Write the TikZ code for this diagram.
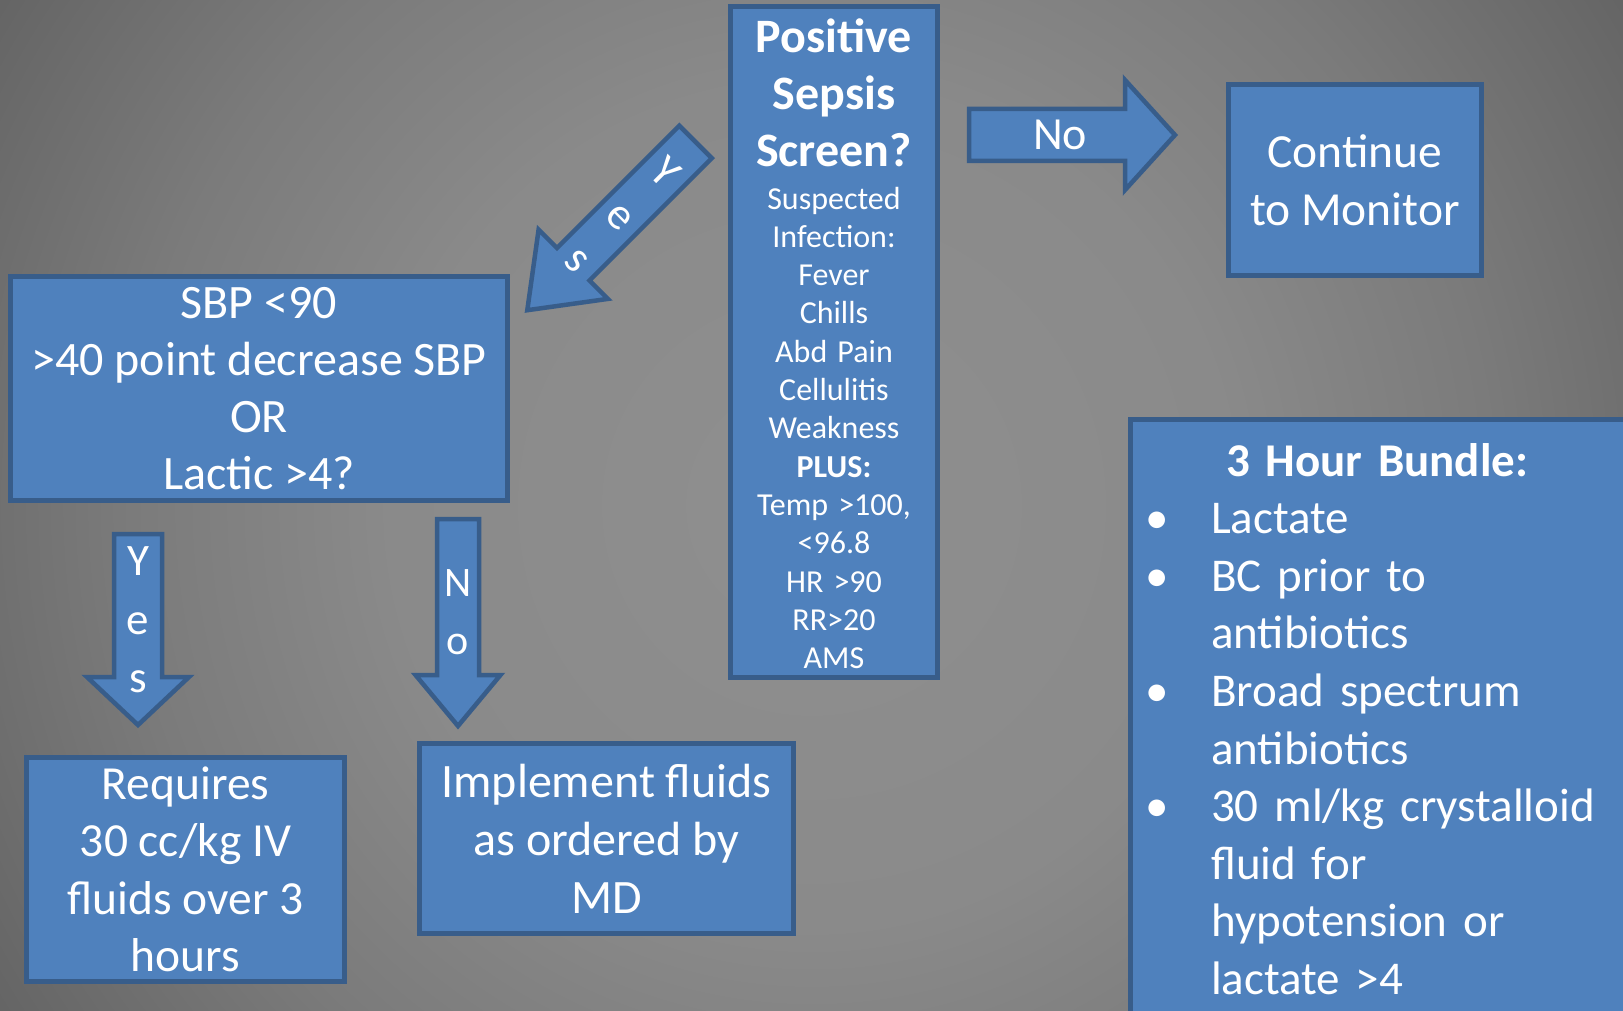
\documentclass[tikz,border=0pt]{standalone}
\usepackage{fontspec}
\setmainfont{Carlito}
\usetikzlibrary{calc}

\definecolor{boxfill}{HTML}{4F81BD}
\definecolor{boxline}{HTML}{385D8A}
\definecolor{bgA}{HTML}{8F8F8F}
\definecolor{bgB}{HTML}{8A8A8A}
\definecolor{bgC}{HTML}{7B7B7B}
\definecolor{bgD}{HTML}{686868}
\definecolor{bgE}{HTML}{555555}
\definecolor{bgF}{HTML}{474747}

% slide background: light centre fading to dark corners (circular)
\pgfdeclareradialshading{slidebg}{\pgfpoint{0bp}{0bp}}{%
  color(0bp)=(bgA); color(11bp)=(bgB); color(17.8bp)=(bgC);
  color(24bp)=(bgD); color(30bp)=(bgE); color(35.4bp)=(bgF); color(50bp)=(bgF)}

\newcommand\fsz[2]{\fontsize{#1pt}{#2pt}\selectfont}
\newcommand\bitem{\noindent\llap{\makebox[0pt]{\textbullet}\hspace{54pt}}}

\tikzset{
  box/.style={draw=boxline, fill=boxfill, line width=5pt, text=white,
    align=center, inner sep=0pt, outer sep=0pt},
  barrow/.style={draw=boxline, fill=boxfill, line width=4.5pt, line join=miter},
  arrowlabel/.style={text=white, align=center, inner sep=0pt},
  % block arrow pointing along local +y: shaft half width, head half width,
  % start of head, tip
  pics/blockarrow/.style n args={4}{code={
    \draw[barrow] (-#1,2) -- (-#1,#3) -- (-#2,#3) -- (0,#4) -- (#2,#3)
      -- (#1,#3) -- (#1,2) -- cycle;
  }},
}

\begin{document}
\begin{tikzpicture}[x=1pt, y=-1pt]
\useasboundingbox (0,0) rectangle (1623,1011);
\clip (0,0) rectangle (1623,1011);
% square shading area so the gradient stays circular
\shade[shading=slidebg] (-143.5,-449.5) rectangle (1766.5,1460.5);

% decision boxes
\node[box, minimum width=207, minimum height=671, text width=207] (screen) at (834,342) {%
  {\fsz{48}{57}\bfseries\rule{0pt}{37pt}Positive\\Sepsis\\Screen?\par}
  \vspace{4.7pt}
  {\fsz{32}{38.3}\spaceskip=1.4\fontdimen2\font Suspected\\Infection:\\Fever\\Chills\\Abd Pain\\
   Cellulitis\\Weakness\\\textbf{PLUS:}\\Temp >100,\\<96.8\\HR >90\\RR>20\\AMS\par}};

\node[box, minimum width=253, minimum height=191, font=\fsz{47.5}{58}] (continue) at (1355,180)
  {Continue\\to Monitor};

\node[box, minimum width=497, minimum height=224, font=\fsz{48}{57}] (sbp) at (259,388.5)
  {SBP <90\\>40 point decrease SBP\\OR\\Lactic >4?};

\node[box, minimum width=318, minimum height=224, font=\fsz{47.5}{57.5}] (requires) at (185.5,869.5)
  {Requires\\30 cc/kg IV\\fluids over 3\\hours};

\node[box, minimum width=374, minimum height=190, font=\fsz{48}{58}] (implement) at (606.5,838.5)
  {Implement fluids\\as ordered by\\MD};

% bundle panel runs off the right and bottom edges
\node[box, minimum width=540, minimum height=640, anchor=north west] (bundle) at (1130.5,419.5) {};
\node[anchor=base west, text width=480, text=white, inner sep=0pt, font=\fsz{47}{57.6}]
  (bundletext) at (1137,476) {%
  {\centering\bfseries 3 Hour Bundle:\par}
  \raggedright\leftskip=74pt
  \bitem Lactate\par
  \bitem BC prior to\\antibiotics\par
  \bitem Broad spectrum\\antibiotics\par
  \bitem 30 ml/kg crystalloid\\fluid for\\hypotension or\\lactate >4\par};

% block arrows
\pic (arrowno)   [rotate=90]  at (967,135)   {blockarrow={26}{55}{158}{208}};
\pic (arrowyes)  [rotate=-45] at (697,140.5) {blockarrow={23}{49}{175}{240}};
\pic (arrowyes2)              at (138,532)   {blockarrow={24}{51}{145}{193}};
\pic (arrowno2)               at (458,517)   {blockarrow={21}{42.5}{158}{209}};

% arrow labels
\node[arrowlabel, anchor=base, font=\fsz{46}{58}] (labelno) at (1060,150) {No};
\node[arrowlabel, rotate=-45, font=\fsz{45}{61}] (labelyes) at (622,215.5) {Y\\e\\s};
\node[arrowlabel, font=\fsz{45}{58.5}] (labelyes2) at (138,620) {Y\\e\\s};
\node[arrowlabel, font=\fsz{42}{58}] (labelno2) at (458,612.5) {N\\o};
\end{tikzpicture}
\end{document}
